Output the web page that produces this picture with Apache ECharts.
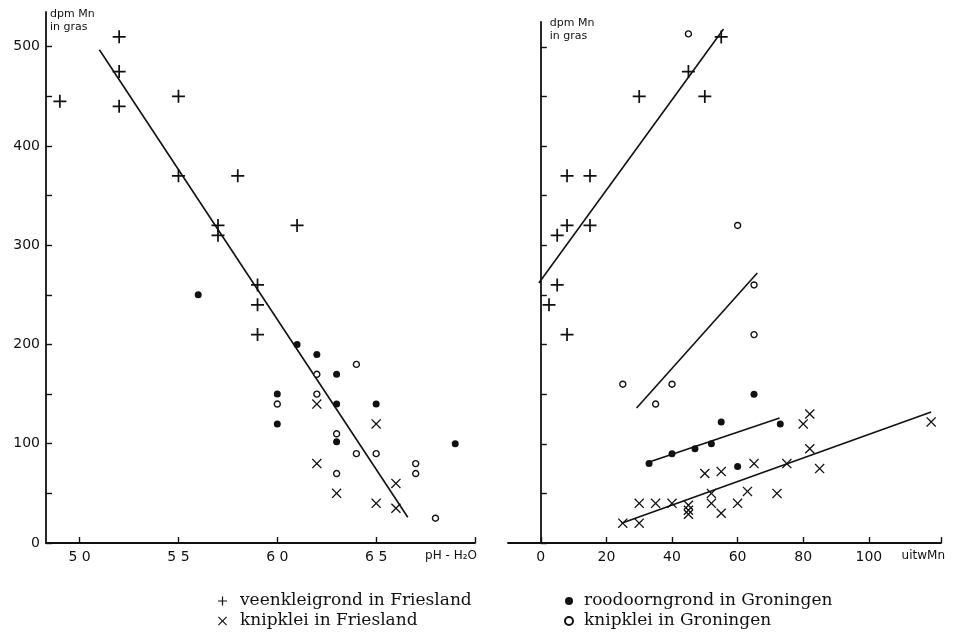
<!DOCTYPE html>
<html><head><meta charset="utf-8">
<script src="https://cdn.jsdelivr.net/npm/echarts@6/dist/echarts.min.js"></script>
<style>html,body{margin:0;padding:0;background:#fff}#c{width:955px;height:635px}</style>
</head><body><div id="c"></div>
<script>
// ---- Left panel: dpm Mn in gras vs pH-H2O ----
const leftVeen  = [[4.9,445],[5.2,510],[5.2,475],[5.2,440],[5.5,450],[5.5,370],[5.8,370],[5.7,320],[5.7,310],[6.1,320],[5.9,260],[5.9,240],[5.9,210]];
const leftKnipF = [[6.2,140],[6.5,120],[6.2,80],[6.3,50],[6.6,60],[6.5,40],[6.6,35]];
const leftRood  = [[5.6,250],[6.1,200],[6.2,190],[6.3,170],[6.0,150],[6.0,120],[6.3,140],[6.5,140],[6.3,102],[6.9,100]];
const leftKnipG = [[6.2,170],[6.4,180],[6.0,140],[6.2,150],[6.3,110],[6.4,90],[6.5,90],[6.3,70],[6.7,80],[6.7,70],[6.8,25]];
const leftFit   = [[5.1,497],[6.66,26]];

// ---- Right panel: dpm Mn in gras vs uitwMn ----
const rightVeen  = [[55,510],[45,475],[30,450],[50,450],[8,370],[15,370],[8,320],[15,320],[5,310],[5,260],[2.5,240],[8,210]];
const rightKnipF = [[25,20],[30,20],[30,40],[35,40],[40,40],[45,38],[45,33],[45,29],[50,70],[55,72],[65,80],[52,50],[52,40],[55,30],[60,40],[63,52],[72,50],[75,80],[80,120],[82,130],[82,95],[85,75],[119,122]];
const rightRood  = [[65,150],[55,122],[73,120],[33,80],[40,90],[47,95],[52,100],[60,77]];
const rightKnipG = [[45,513],[60,320],[65,260],[65,210],[25,160],[40,160],[35,140]];
const rightFitVeen  = [[-0.6,262],[55.7,518]];
const rightFitKnipG = [[29.2,136],[66,272]];
const rightFitRood  = [[32.6,81],[72.8,126]];
const rightFitKnipF = [[24.6,20],[119,132]];

// ---- ticks / labels ----
const leftXTicks  = [5, 5.5, 6, 6.5, 7];
const leftXLabels = [5, 5.5, 6, 6.5];
const rightXTicks  = [0, 20, 40, 60, 80, 100, 122];
const rightXLabels = [0, 20, 40, 60, 80, 100];
const yTicks  = [0, 50, 100, 150, 200, 250, 300, 350, 400, 450, 500];
const yLabels = [0, 100, 200, 300, 400, 500];

const names = ['veenkleigrond in Friesland','knipklei in Friesland','roodoorngrond in Groningen','knipklei in Groningen'];

const PLUS  = 'path://M5.2,0H6.8V5.2H12V6.8H6.8V12H5.2V6.8H0V5.2H5.2Z';
const CROSS = 'path://M0,1.1L1.1,0L6,4.9L10.9,0L12,1.1L7.1,6L12,10.9L10.9,12L6,7.1L1.1,12L0,10.9L4.9,6Z';
const INK = '#111';

const styles = [
  {symbol: PLUS,  symbolSize: 13, itemStyle: {color: INK, opacity: 1}},
  {symbol: CROSS, symbolSize: 10, itemStyle: {color: INK, opacity: 1}},
  {symbol: 'circle', symbolSize: 7, itemStyle: {color: INK, opacity: 1}},
  {symbol: 'circle', symbolSize: 6, itemStyle: {color: '#fff', borderColor: INK, borderWidth: 1.4, opacity: 1}}
];

function pts(i, data, g) {
  return Object.assign({type: 'scatter', name: names[i], data: data, xAxisIndex: g, yAxisIndex: g, z: 3}, styles[i]);
}
function fit(data, g) {
  return {type: 'line', data: data, xAxisIndex: g, yAxisIndex: g, symbol: 'none', silent: true,
          lineStyle: {color: INK, width: 1.6}, z: 2};
}

const axisLine = {show: true, lineStyle: {color: INK, width: 1.8}};
const tick = {show: true, inside: true, length: 6, lineStyle: {color: INK, width: 1.4}};
const lab = {color: INK, fontFamily: 'DejaVu Sans', fontSize: 14};
const legText = {color: INK, fontFamily: 'DejaVu Serif', fontSize: 17, lineHeight: 20};

const option = {
  backgroundColor: '#fff',
  animation: false,
  grid: [
    {left: 46, right: 480, top: 12, bottom: 92},
    {left: 508, right: 14, top: 22, bottom: 92}
  ],
  xAxis: [
    {type: 'value', gridIndex: 0, min: 4.83, max: 7.0, axisLine: axisLine,
     axisTick: Object.assign({customValues: leftXTicks}, tick),
     axisLabel: Object.assign({customValues: leftXLabels, margin: 7, formatter: v => v.toFixed(1).replace('.', ' ')}, lab),
     splitLine: {show: false},
     name: 'pH - H₂O', nameLocation: 'end', nameGap: 2,
     nameTextStyle: {color: INK, fontFamily: 'DejaVu Sans', fontSize: 12, align: 'right', verticalAlign: 'top', padding: [7, 0, 0, 0]}},
    {type: 'value', gridIndex: 1, min: -10, max: 122, axisLine: axisLine,
     axisTick: Object.assign({customValues: rightXTicks}, tick),
     axisLabel: Object.assign({customValues: rightXLabels, margin: 7}, lab),
     splitLine: {show: false},
     name: 'uitwMn', nameLocation: 'end', nameGap: 4,
     nameTextStyle: {color: INK, fontFamily: 'DejaVu Sans', fontSize: 12, align: 'right', verticalAlign: 'top', padding: [7, 0, 0, 0]}}
  ],
  yAxis: [
    {type: 'value', gridIndex: 0, min: 0, max: 535, axisLine: axisLine,
     axisTick: Object.assign({customValues: yTicks}, tick),
     axisLabel: Object.assign({customValues: yLabels, margin: 6}, lab),
     splitLine: {show: false},
     name: 'dpm Mn\nin gras', nameLocation: 'end', nameGap: 4,
     nameTextStyle: {color: INK, fontFamily: 'DejaVu Sans', fontSize: 11, lineHeight: 13, align: 'left', verticalAlign: 'top', padding: [0, 0, 0, 4]}},
    {type: 'value', gridIndex: 1, min: 0, max: 525, axisLine: axisLine,
     axisTick: Object.assign({customValues: yTicks}, tick),
     axisLabel: {show: false},
     splitLine: {show: false},
     name: 'dpm Mn\nin gras', nameLocation: 'end', nameGap: 5,
     nameTextStyle: {color: INK, fontFamily: 'DejaVu Sans', fontSize: 11, lineHeight: 13, align: 'left', verticalAlign: 'top', padding: [0, 0, 0, 9]}}
  ],
  legend: [
    {data: [names[0], names[1]], orient: 'vertical', left: 218, top: 591, padding: 0, itemGap: 0,
     height: 44, itemWidth: 9, itemHeight: 9, selectedMode: false,
     textStyle: Object.assign({padding: [0, 0, 0, 8]}, legText)},
    {data: [names[2], names[3]], orient: 'vertical', left: 564, top: 591, padding: 0, itemGap: 0,
     height: 44, itemWidth: 8, itemHeight: 8, selectedMode: false,
     textStyle: Object.assign({padding: [0, 0, 0, 6]}, legText)}
  ],
  series: [
    fit(leftFit, 0),
    pts(0, leftVeen, 0), pts(1, leftKnipF, 0), pts(2, leftRood, 0), pts(3, leftKnipG, 0),
    fit(rightFitVeen, 1), fit(rightFitKnipG, 1), fit(rightFitRood, 1), fit(rightFitKnipF, 1),
    pts(0, rightVeen, 1), pts(1, rightKnipF, 1), pts(2, rightRood, 1), pts(3, rightKnipG, 1)
  ]
};
echarts.init(document.getElementById('c'), null, {renderer: 'canvas'}).setOption(option);
</script>
</body></html>
